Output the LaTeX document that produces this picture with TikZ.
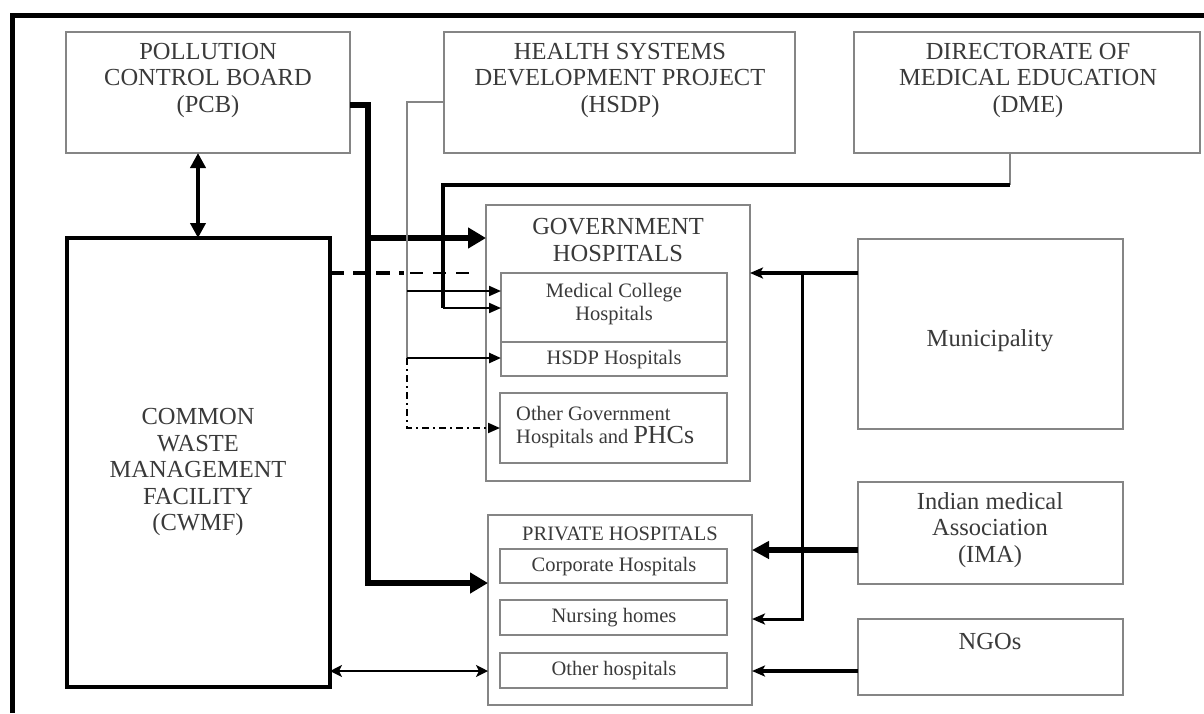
\documentclass[tikz,border=0pt]{standalone}
\usepackage{fontspec}
\setmainfont{Liberation Serif}
\usetikzlibrary{arrows.meta}
\definecolor{txtgray}{HTML}{3A3A3A}
\definecolor{boxgray}{HTML}{858585}
\begin{document}
\begin{tikzpicture}[x=1pt,y=-1pt,
  box/.style={draw=boxgray, line width=1.5pt, rectangle, inner sep=0pt, outer sep=0pt, anchor=north west},
  heavybox/.style={draw=black, line width=4pt, rectangle, inner sep=0pt, outer sep=0pt, anchor=north west},
  big/.style={text=txtgray, font=\fontsize{24.5}{26.5}\selectfont, align=center, inner sep=0pt},
  small/.style={text=txtgray, font=\fontsize{20.5}{22.5}\selectfont, align=center, inner sep=0pt},
  tipbig/.style={-{Triangle[length=18pt,width=20pt]}},
  tipmed/.style={-{Triangle[length=14pt,width=14pt]}},
  tipsmall/.style={-{Triangle[length=12pt,width=10pt]}},
  tipst/.style={-{Stealth[length=13pt,width=11pt,inset=3pt]}},
  line join=miter]
\fill[white] (0,0) rectangle (1204,713);
\useasboundingbox (0,0) rectangle (1204,713);
% frame
\draw[line width=5pt] (12,713) -- (12,15.5) -- (1204,15.5);

% top boxes
\node[box, minimum width=284pt, minimum height=121pt] (pcb) at (66,32) {};
\node[big] (pcbt) at (208,80) {POLLUTION\\CONTROL BOARD\\(PCB)};
\node[box, minimum width=351pt, minimum height=121pt] (hsdp) at (444,32) {};
\node[big] (hsdpt) at (620,80) {HEALTH SYSTEMS\\DEVELOPMENT PROJECT\\(HSDP)};
\node[box, minimum width=346pt, minimum height=121pt] (dme) at (854,32) {};
\node[big] (dmet) at (1028,80) {DIRECTORATE OF\\MEDICAL EDUCATION\\(DME)};

% CWMF
\node[heavybox, minimum width=263pt, minimum height=449pt] (cwmf) at (67,238) {};
\node[big] (cwmft) at (198,472) {COMMON\\WASTE\\MANAGEMENT\\FACILITY\\(CWMF)};

% Government hospitals
\node[box, minimum width=264pt, minimum height=276pt] (gov) at (486,205) {};
\node[big] (govt) at (618,240) {GOVERNMENT\\HOSPITALS};
\node[box, minimum width=226pt, minimum height=69pt] (mch) at (501,273) {};
\node[small] (mcht) at (614,304) {Medical College\\Hospitals};
\node[box, minimum width=226pt, minimum height=34pt] (hsdph) at (501,342) {};
\node[small] (hsdpht) at (614,360) {HSDP Hospitals};
\node[box, minimum width=227pt, minimum height=70pt] (ogh) at (500,393) {};
\node[small, align=left, anchor=west] (ogt) at (516,427) {Other Government\\Hospitals and {\fontsize{26}{22.5}\selectfont PHCs}};

% Private hospitals
\node[box, minimum width=264pt, minimum height=190pt] (pvt) at (488,515) {};
\node[small] (pvtt) at (620,534) {PRIVATE HOSPITALS};
\node[box, minimum width=227pt, minimum height=34pt] (corp) at (500,549) {};
\node[small] (corpt) at (614,567) {Corporate Hospitals};
\node[box, minimum width=227pt, minimum height=35pt] (nurs) at (500,600) {};
\node[small] (nurst) at (614,618) {Nursing homes};
\node[box, minimum width=227pt, minimum height=35pt] (oth) at (500,653) {};
\node[small] (otht) at (614,671) {Other hospitals};

% right boxes
\node[box, minimum width=265pt, minimum height=190pt] (muni) at (858,239) {};
\node[big] (munit) at (990,341) {Municipality};
\node[box, minimum width=265pt, minimum height=102pt] (ima) at (858,482) {};
\node[big] (imat) at (990,530) {Indian medical\\Association\\(IMA)};
\node[box, minimum width=265pt, minimum height=76pt] (ngo) at (858,619) {};
\node[big] (ngot) at (990,641) {NGOs};

% junction coordinates
\coordinate (pj) at (368,105);
\coordinate (hj) at (407,102);
\coordinate (dj) at (1010,185);
\coordinate (mj) at (802,273);

% PCB connections
\draw[line width=5.5pt, tipbig] (pcb.east |- pj) -- (pj) -- (368,583) -- (pvt.west |- 0,583);
\draw[line width=5.5pt, tipbig] (368,238) -- (gov.west |- 0,238);
\draw[line width=4pt, {Triangle[length=15pt,width=15pt]}-{Triangle[length=15pt,width=15pt]}] (pcb.south -| 198,0) -- (cwmf.north -| 198,0);

% dashed CWMF -> gov
\draw[line width=4pt, dash pattern=on 14pt off 9pt] (cwmf.east |- 0,273) -- (404,273);
\draw[line width=2pt, dash pattern=on 13pt off 10pt] (410,273) -- (476,273);

% HSDP connections
\draw[draw=boxgray, line width=1.5pt] (hsdp.west |- hj) -- (hj) -- (407,358);
\draw[line width=2pt, tipsmall] (407,291) -- (mch.west |- 0,291);
\draw[line width=2.5pt, tipsmall] (407,358) -- (hsdph.west |- 0,358);
\draw[line width=2pt, dash pattern=on 7pt off 4pt on 2pt off 4pt, tipsmall] (407,358) -- (407,428) -- (ogh.west |- 0,428);

% DME connections
\draw[draw=boxgray, line width=2pt] (dme.south -| dj) -- (dj);
\draw[line width=3.5pt] (dj) -- (443,185) -- (443,308);
\draw[line width=2pt, tipsmall] (443,308) -- (mch.west |- 0,308);

% Municipality
\draw[line width=3.5pt, tipst] (muni.west |- mj) -- (gov.east |- mj);
\draw[line width=3pt, tipst] (mj) -- (802,619) -- (pvt.east |- 0,619);

% IMA, NGO
\draw[line width=6pt, -{Triangle[length=17pt,width=17pt]}] (ima.west |- 0,550) -- (pvt.east |- 0,550);
\draw[line width=3.5pt, tipst] (ngo.west |- 0,671) -- (pvt.east |- 0,671);

% CWMF <-> other hospitals
\draw[line width=2pt, {Stealth[length=12pt,width=12pt,inset=3pt]}-{Stealth[length=12pt,width=12pt,inset=3pt]}] (cwmf.east |- 0,671) -- (pvt.west |- 0,671);
\end{tikzpicture}
\end{document}
